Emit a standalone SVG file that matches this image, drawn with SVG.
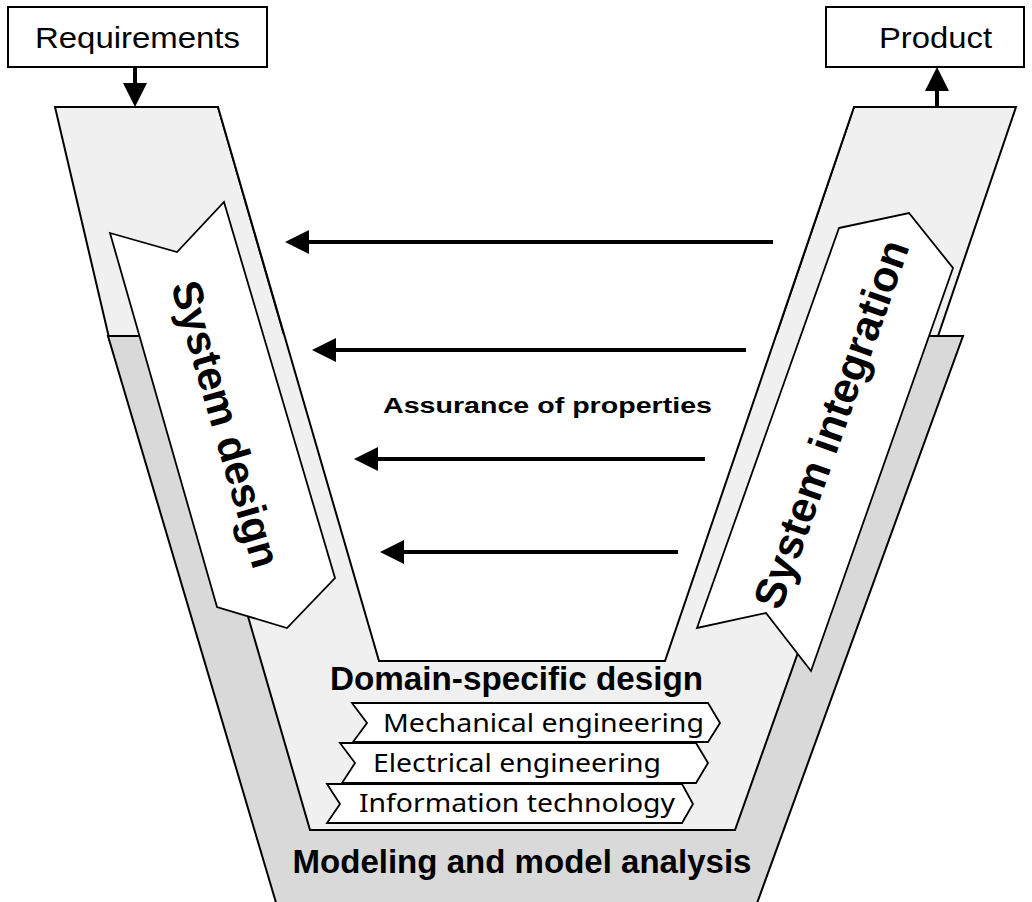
<svg xmlns="http://www.w3.org/2000/svg" width="1032" height="902" viewBox="0 0 1032 902">
<defs>
<style>
.box{fill:#fff;stroke:#000;stroke-width:2}
.lg{fill:#f0f0f0;stroke:#000;stroke-width:2;stroke-linejoin:miter}
.gr{fill:#d9d9d9;stroke:#000;stroke-width:2}
.edge{fill:none;stroke:#000;stroke-width:2}
.wh{fill:#fff;stroke:#000;stroke-width:1.8;stroke-linejoin:miter}
.arr{stroke:#000;stroke-width:4;fill:none}
.lbl{font-family:"Liberation Sans",Arial,sans-serif;font-size:30px;fill:#000}
.big{font-family:"Liberation Sans",Arial,sans-serif;font-weight:bold;fill:#000}
.dom{font-family:"Noto Sans","Open Sans",sans-serif;font-size:26px;fill:#000}
</style>
<marker id="ah" viewBox="0 0 24 24" refX="14" refY="12" markerWidth="24" markerHeight="24" markerUnits="userSpaceOnUse" orient="auto">
<path d="M0,0 L24,12 L0,24 z" fill="#000"/>
</marker>
</defs>

<g id="columns">
<polygon class="lg" points="55,107 218,107 286,342 110,342"/>
<polygon class="lg" points="854,107 1016,107 936,342 774,342"/>
</g>

<g id="modeling">
<polygon class="gr" points="108,336 963,336 756,906 277,906"/>
<text class="big" x="522" y="873" font-size="33" text-anchor="middle" textLength="459" lengthAdjust="spacingAndGlyphs">Modeling and model analysis</text>
</g>

<g id="domain">
<polygon fill="#f0f0f0" points="166,334 911,334 735,830 310,830"/>
<polyline class="edge" points="166,334 310,830 735,830 911,334"/>
<polygon fill="#fff" points="218,107 854,107 665,661 379,661"/>
<polyline class="edge" points="218,107 379,661 665,661 854,107"/>
<text class="big" x="516.5" y="690" font-size="33" text-anchor="middle" textLength="373" lengthAdjust="spacingAndGlyphs">Domain-specific design</text>
</g>

<g id="mechanical">
<polygon class="wh" points="352,703 708,703 720,723 708,742 353,742 367,723"/>
<text class="dom" x="383" y="732" textLength="321" lengthAdjust="spacingAndGlyphs">Mechanical engineering</text>
</g>
<g id="electrical">
<polygon class="wh" points="340,743 696,743 708,763 696,783 342,783 355,763"/>
<text class="dom" x="373" y="772" textLength="288" lengthAdjust="spacingAndGlyphs">Electrical engineering</text>
</g>
<g id="information">
<polygon class="wh" points="327,784 682,784 693,804 682,823 327,823 340,804"/>
<text class="dom" x="359" y="812" textLength="316" lengthAdjust="spacingAndGlyphs">Information technology</text>
</g>

<g id="system-design">
<polygon class="wh" points="110,233 177,252 224,202 335,578 287,628 217,607"/>
<text class="big" font-size="42" text-anchor="middle" dominant-baseline="central" transform="translate(226,424) rotate(73.8)">System design</text>
</g>

<g id="system-integration">
<polygon class="wh" points="839,228 909,213 953,268 811,671 766,613 697,628"/>
<text class="big" font-size="43" text-anchor="middle" dominant-baseline="central" transform="translate(831,424) rotate(-70.5)">System integration</text>
</g>

<g id="requirements">
<rect class="box" x="8" y="7" width="259" height="60"/>
<text class="lbl" x="137.5" y="48" text-anchor="middle" textLength="205" lengthAdjust="spacingAndGlyphs">Requirements</text>
</g>

<g id="product">
<rect class="box" x="826" y="7" width="198" height="60"/>
<text class="lbl" x="935.5" y="48" text-anchor="middle" textLength="113" lengthAdjust="spacingAndGlyphs">Product</text>
</g>

<g id="assurance">
<text class="big" x="383" y="413" font-size="22" textLength="329" lengthAdjust="spacingAndGlyphs">Assurance of properties</text>
</g>

<g id="connectors">
<line class="arr" x1="135" y1="67" x2="135" y2="97" marker-end="url(#ah)"/>
<line class="arr" x1="937" y1="107" x2="937" y2="77" marker-end="url(#ah)"/>
<line class="arr" x1="773" y1="242" x2="295" y2="242" marker-end="url(#ah)"/>
<line class="arr" x1="746" y1="350" x2="322" y2="350" marker-end="url(#ah)"/>
<line class="arr" x1="705" y1="459" x2="364" y2="459" marker-end="url(#ah)"/>
<line class="arr" x1="678" y1="552" x2="390" y2="552" marker-end="url(#ah)"/>
</g>
</svg>
